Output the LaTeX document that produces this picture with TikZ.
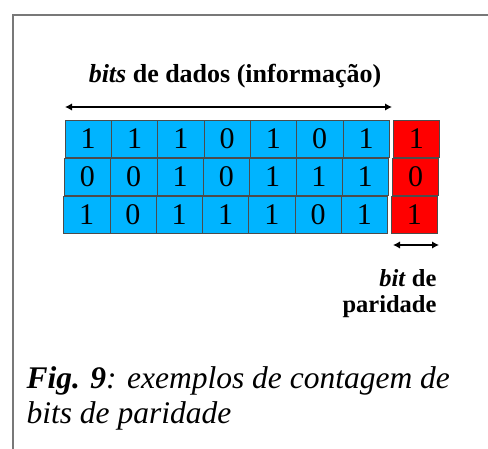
\documentclass[tikz,border=0pt]{standalone}
\usepackage{fontspec}
\setmainfont{Liberation Serif}
\usetikzlibrary{arrows.meta}
\definecolor{bitblue}{RGB}{0,180,255}
\definecolor{framegray}{RGB}{120,120,120}
\tikzset{
  bitcell/.style={draw=black!70,fill=bitblue,minimum width=46.3pt,minimum height=37pt,inner sep=0pt,font=\fontsize{30}{30}\selectfont},
  paritycell/.style={bitcell,fill=red},
  span/.style={{Latex[length=7pt,width=7.5pt]}-{Latex[length=7pt,width=7.5pt]},line width=1.8pt},
}
\begin{document}
\begin{tikzpicture}[x=1pt,y=-1pt]
\useasboundingbox (0,0) rectangle (488,449);
\draw[framegray,line width=1.5pt] (13,449) -- (13,15) -- (488,15);
\node[anchor=base,font=\fontsize{26}{26}\selectfont\bfseries](title) at (235,83){\textit{bits} de dados (informação)};
\coordinate (dl) at (65,107);
\coordinate (dr) at (392,107);
\draw[span] (dl) -- (dr);
% row 1
\node[bitcell](b11) at (88.2,138.3){1};
\node[bitcell](b12) at (134.5,138.3){1};
\node[bitcell](b13) at (180.8,138.3){1};
\node[bitcell](b14) at (227.1,138.3){0};
\node[bitcell](b15) at (273.4,138.3){1};
\node[bitcell](b16) at (319.7,138.3){0};
\node[bitcell](b17) at (366.0,138.3){1};
\node[paritycell](p1) at (416.3,138.3){1};
% row 2
\node[bitcell](b21) at (87.4,176.7){0};
\node[bitcell](b22) at (133.7,176.7){0};
\node[bitcell](b23) at (180.0,176.7){1};
\node[bitcell](b24) at (226.3,176.7){0};
\node[bitcell](b25) at (272.6,176.7){1};
\node[bitcell](b26) at (318.9,176.7){1};
\node[bitcell](b27) at (365.2,176.7){1};
\node[paritycell](p2) at (415.5,176.7){0};
% row 3
\node[bitcell](b31) at (86.6,214.7){1};
\node[bitcell](b32) at (132.9,214.7){0};
\node[bitcell](b33) at (179.2,214.7){1};
\node[bitcell](b34) at (225.5,214.7){1};
\node[bitcell](b35) at (271.8,214.7){1};
\node[bitcell](b36) at (318.1,214.7){0};
\node[bitcell](b37) at (364.4,214.7){1};
\node[paritycell](p3) at (414.3,214.7){1};
\coordinate (pl) at (393,245);
\coordinate (pr) at (439,245);
\draw[span] (pl) -- (pr);
\node[anchor=base east,font=\fontsize{24.5}{24.5}\selectfont\bfseries](par1) at (440,287){\textit{bit} de};
\node[anchor=base east,font=\fontsize{24.5}{24.5}\selectfont\bfseries](par2) at (440,313){paridade};
\node[anchor=base west,font=\fontsize{31.5}{31.5}\selectfont\itshape](cap1) at (23,389){\textbf{Fig. 9}: exemplos de contagem de};
\node[anchor=base west,font=\fontsize{31.5}{31.5}\selectfont\itshape](cap2) at (23,424){bits de paridade};
\end{tikzpicture}
\end{document}
